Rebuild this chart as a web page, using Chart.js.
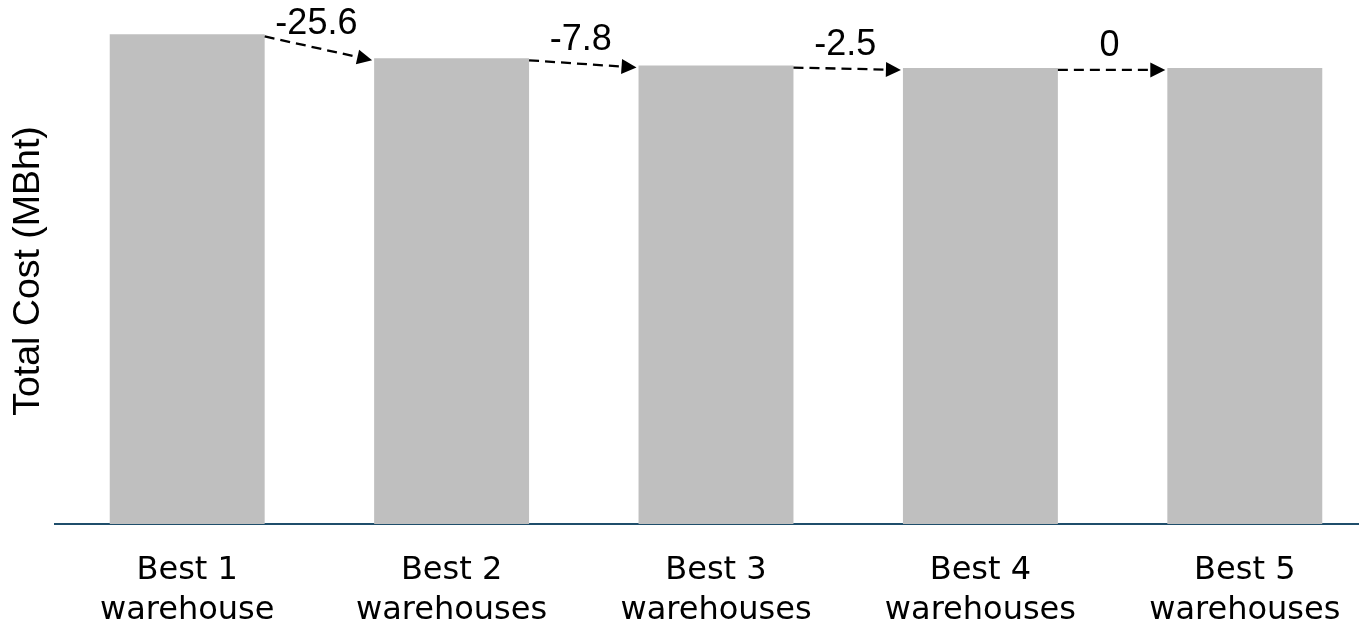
<!DOCTYPE html>
<html>
<head>
<meta charset="utf-8">
<title>Total Cost by Number of Warehouses</title>
<script src="https://cdn.jsdelivr.net/npm/chart.js@4"></script>
<style>
  html, body { margin: 0; padding: 0; background: #ffffff; overflow: hidden; }
  #wrap { position: relative; width: 1377px; height: 658px; }
</style>
</head>
<body>
<div id="wrap"><canvas id="chart"></canvas></div>
<script>
// Scenario labels (two lines each)
const categories = [
  ['Best 1', 'warehouse'],
  ['Best 2', 'warehouses'],
  ['Best 3', 'warehouses'],
  ['Best 4', 'warehouses'],
  ['Best 5', 'warehouses']
];
// Total cost per scenario, MBht
const totalCost = [523.9, 498.3, 490.5, 488.0, 488.0];
const yAxisTitle = 'Total Cost (MBht)';

// Change in cost from one scenario to the next
function stepLabel(i) {
  const d = Math.round((totalCost[i + 1] - totalCost[i]) * 10) / 10;
  return d === 0 ? '0' : d.toFixed(1);
}

// Dashed arrows between neighbouring bars, with the change written above
const stepArrows = {
  id: 'stepArrows',
  afterDatasetsDraw(chart) {
    const ctx = chart.ctx;
    const bars = chart.getDatasetMeta(0).data;
    ctx.save();
    for (let i = 0; i < bars.length - 1; i++) {
      const a = bars[i], b = bars[i + 1];
      const x0 = a.x + a.width / 2;
      const y0 = a.y + 2;
      const x1 = b.x - b.width / 2 - 2;
      const y1 = b.y + 2;
      const ang = Math.atan2(y1 - y0, x1 - x0);
      const head = 15, half = 7.5;
      const bx = x1 - head * Math.cos(ang);
      const by = y1 - head * Math.sin(ang);

      ctx.strokeStyle = '#000000';
      ctx.lineWidth = 2.3;
      ctx.setLineDash([10, 6]);
      ctx.beginPath();
      ctx.moveTo(x0, y0);
      ctx.lineTo(bx, by);
      ctx.stroke();

      ctx.setLineDash([]);
      ctx.fillStyle = '#000000';
      ctx.beginPath();
      ctx.moveTo(x1, y1);
      ctx.lineTo(bx + half * Math.sin(ang), by - half * Math.cos(ang));
      ctx.lineTo(bx - half * Math.sin(ang), by + half * Math.cos(ang));
      ctx.closePath();
      ctx.fill();

      ctx.font = '36px "Liberation Sans", Arial, sans-serif';
      ctx.textAlign = 'center';
      ctx.textBaseline = 'alphabetic';
      ctx.fillText(stepLabel(i), (x0 + x1) / 2 - 2, (y0 + y1) / 2 - 14);
    }
    ctx.restore();
  }
};

new Chart(document.getElementById('chart'), {
  type: 'bar',
  data: {
    labels: categories,
    datasets: [{
      data: totalCost,
      backgroundColor: '#bfbfbf',
      borderWidth: 0,
      categoryPercentage: 1.0,
      barPercentage: 0.586
    }]
  },
  options: {
    responsive: true,
    maintainAspectRatio: false,
    animation: false,
    layout: { padding: { top: 18, right: 0, bottom: 0, left: 0 } },
    plugins: {
      legend: { display: false },
      tooltip: { enabled: false }
    },
    scales: {
      x: {
        grid: { display: false, drawTicks: false },
        border: { display: true, color: '#1f4e6b', width: 2 },
        ticks: {
          color: '#000000',
          padding: 27,
          maxRotation: 0,
          autoSkip: false,
          font: { family: '"DejaVu Sans", sans-serif', size: 32, lineHeight: 1.25 }
        }
      },
      y: {
        min: 0,
        max: 541.4,
        grid: { display: false, drawTicks: false },
        border: { display: false },
        ticks: { display: false },
        title: {
          display: true,
          text: yAxisTitle,
          color: '#000000',
          padding: { top: 6, bottom: 4 },
          font: { family: '"Liberation Sans", Arial, sans-serif', size: 37.5, lineHeight: 1.2 }
        }
      }
    }
  },
  plugins: [stepArrows]
});
</script>
</body>
</html>
